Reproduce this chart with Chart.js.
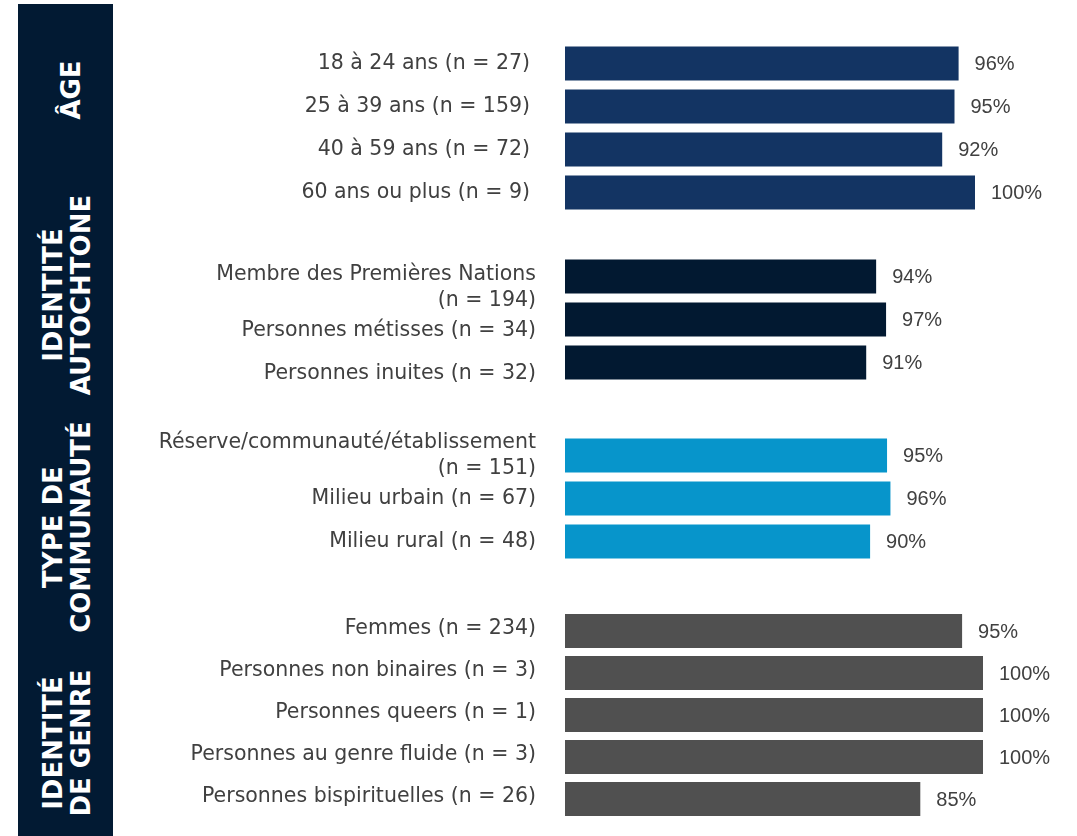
<!DOCTYPE html>
<html>
<head>
<meta charset="utf-8">
<script src="https://cdn.jsdelivr.net/npm/chart.js@4.4.1/dist/chart.umd.min.js"></script>
<style>
  body { margin: 0; width: 1077px; height: 836px; background: #fff; position: relative; overflow: hidden; }
  #band { position: absolute; left: 18px; top: 4px; width: 95px; height: 832px; background: #021a33; }
  .grp { position: absolute; color: #fff; font: bold 26px "DejaVu Sans"; line-height: 28px; text-align: center;
         transform: translate(-50%, -50%) rotate(-90deg); white-space: nowrap; }
  .wrap { position: absolute; left: 120px; width: 957px; }
</style>
</head>
<body>
<div id="band"></div>
<div class="grp" style="left:71px;top:90px">ÂGE</div>
<div class="grp" style="left:67px;top:295px">IDENTITÉ<br>AUTOCHTONE</div>
<div class="grp" style="left:67px;top:527px">TYPE DE<br>COMMUNAUTÉ</div>
<div class="grp" style="left:67px;top:743px">IDENTITÉ<br>DE GENRE</div>

<div class="wrap" id="w1"><canvas id="c1"></canvas></div>
<div class="wrap" id="w2"><canvas id="c2"></canvas></div>
<div class="wrap" id="w3"><canvas id="c3"></canvas></div>
<div class="wrap" id="w4"><canvas id="c4"></canvas></div>

<script>
// values
const ageLabels = ['18 à 24 ans (n = 27)', '25 à 39 ans (n = 159)', '40 à 59 ans (n = 72)', '60 ans ou plus (n = 9)'];
const ageValues = [96, 95, 92, 100];

const autoLabels = [['Membre des Premières Nations', '(n = 194)'], 'Personnes métisses (n = 34)', 'Personnes inuites (n = 32)'];
const autoValues = [94, 97, 91];

const commLabels = [['Réserve/communauté/établissement', '(n = 151)'], 'Milieu urbain (n = 67)', 'Milieu rural (n = 48)'];
const commValues = [95, 96, 90];

const genreLabels = ['Femmes (n = 234)', 'Personnes non binaires (n = 3)', 'Personnes queers (n = 1)',
                     'Personnes au genre fluide (n = 3)', 'Personnes bispirituelles (n = 26)'];
const genreValues = [95, 100, 100, 100, 85];

// percent labels at the end of each bar
const valueLabels = {
  id: 'valueLabels',
  afterDatasetsDraw(chart) {
    const ctx = chart.ctx;
    const meta = chart.getDatasetMeta(0);
    ctx.save();
    ctx.font = '20px "Liberation Sans"';
    ctx.fillStyle = '#404040';
    ctx.textBaseline = 'middle';
    ctx.textAlign = 'left';
    meta.data.forEach((bar, i) => {
      ctx.fillText(chart.data.datasets[0].data[i] + '%', bar.x + 16, bar.y + 1);
    });
    ctx.restore();
  }
};

const PAD = 30;

function makeChart(n, labels, values, color, areaTop, step, padRight, labelOffset, tickPad) {
  const wrap = document.getElementById('w' + n);
  wrap.style.top = (areaTop - PAD) + 'px';
  wrap.style.height = (labels.length * step + 2 * PAD) + 'px';
  new Chart(document.getElementById('c' + n), {
    type: 'bar',
    data: {
      labels: labels,
      datasets: [{
        data: values,
        backgroundColor: color,
        barPercentage: 34 / step,
        categoryPercentage: 1
      }]
    },
    options: {
      indexAxis: 'y',
      responsive: true,
      maintainAspectRatio: false,
      animation: false,
      layout: { padding: { top: PAD, bottom: PAD, left: 0, right: padRight } },
      plugins: { legend: { display: false }, tooltip: { enabled: false } },
      scales: {
        x: { display: false, min: 0, max: 100 },
        y: {
          grid: { display: false, drawTicks: false },
          border: { display: false },
          ticks: {
            autoSkip: false,
            padding: tickPad,
            color: '#404040',
            labelOffset: labelOffset,
            font: { family: 'DejaVu Sans', size: 20.5, lineHeight: 1.27 }
          },
          afterFit(scale) {
            scale.width = 445;
            scale.paddingTop = 0;
            scale.paddingBottom = 0;
          }
        }
      }
    },
    plugins: [valueLabels]
  });
}

makeChart(1, ageLabels, ageValues, '#133463', 41.5, 43, 102, 0, 35);
makeChart(2, autoLabels, autoValues, '#021931', 254.5, 43, 181, 11, 29);
makeChart(3, commLabels, commValues, '#0795cb', 433.5, 43, 173, 0, 29);
makeChart(4, genreLabels, genreValues, '#505050', 610, 42, 94, -2, 29);
</script>
</body>
</html>
